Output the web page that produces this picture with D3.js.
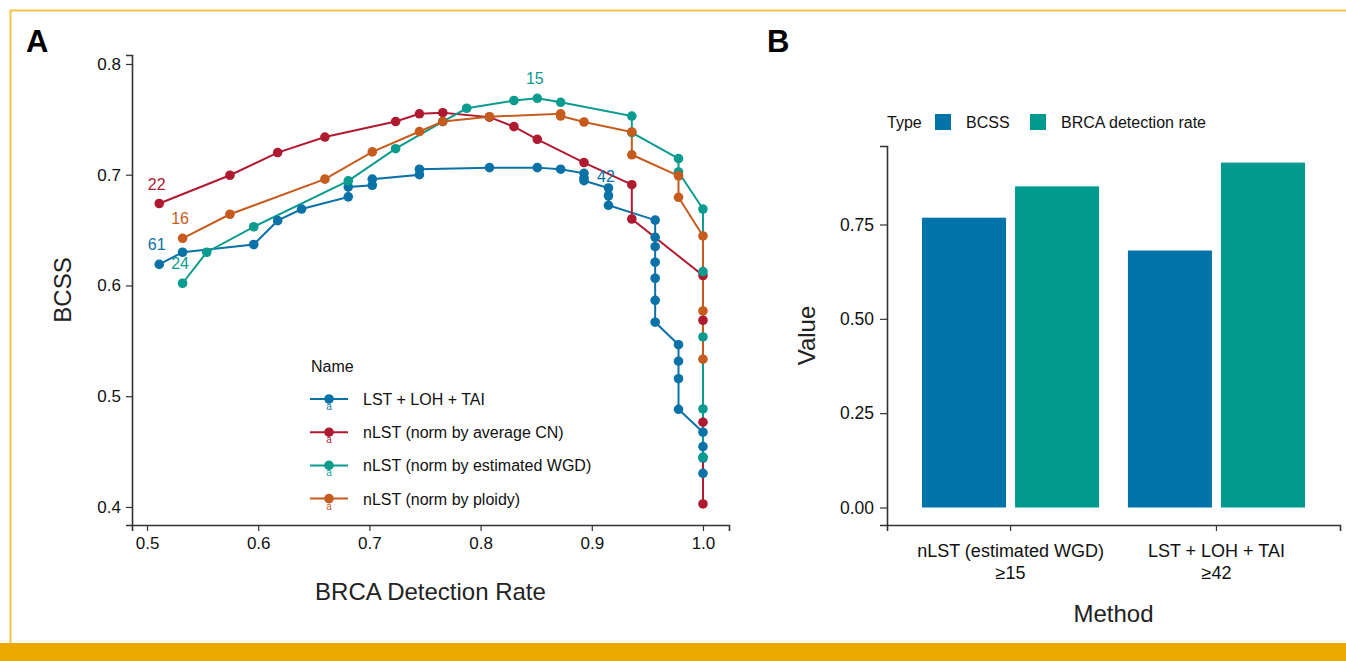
<!DOCTYPE html>
<html><head><meta charset="utf-8">
<script src="https://cdn.jsdelivr.net/npm/d3@7"></script>
<style>
html,body{margin:0;padding:0;background:#fff;}
svg{display:block;font-family:"Liberation Sans",Arial,Helvetica,sans-serif;}
</style></head>
<body>
<svg id="chart" width="1346" height="661"></svg>
<script>
// ---------- Panel A data ----------
const seriesNames = ["LST + LOH + TAI","nLST (norm by average CN)","nLST (norm by estimated WGD)","nLST (norm by ploidy)"];
const seriesColors = ["#0A72A7","#B01A31","#0C9B8F","#C65B1D"];

const blueX = [0.511,0.532,0.596,0.6175,0.639,0.681,0.681,0.7026,0.7026,0.745,0.745,0.808,0.851,0.872,0.893,0.893,0.893,0.915,0.915,0.915,0.957,0.957,0.957,0.957,0.957,0.957,0.957,0.978,0.978,0.978,0.978,1,1,1,1];
const blueY = [0.619,0.630,0.637,0.6585,0.669,0.680,0.689,0.6905,0.696,0.700,0.705,0.7064,0.7064,0.705,0.7013,0.6968,0.6946,0.688,0.681,0.6724,0.659,0.6435,0.635,0.621,0.6065,0.5866,0.5668,0.5465,0.5316,0.5158,0.4882,0.4675,0.4545,0.4442,0.4304];

const redX = [0.511,0.5746,0.6175,0.660,0.7236,0.745,0.766,0.808,0.830,0.851,0.893,0.936,0.936,1,1,1,1];
const redY = [0.674,0.6995,0.720,0.734,0.748,0.755,0.756,0.752,0.7434,0.732,0.711,0.691,0.660,0.609,0.5686,0.4765,0.4027];

const tealX = [0.532,0.5537,0.596,0.681,0.7236,0.766,0.7875,0.830,0.851,0.872,0.936,0.936,0.978,0.978,1,1,1,1,1];
const tealY = [0.602,0.630,0.653,0.6944,0.7235,0.748,0.760,0.767,0.769,0.7654,0.753,0.738,0.7145,0.7025,0.669,0.6125,0.5535,0.4885,0.445];

const orangeX = [0.532,0.5746,0.660,0.7026,0.745,0.766,0.808,0.872,0.872,0.893,0.936,0.936,0.978,0.978,1,1,1];
const orangeY = [0.6426,0.6643,0.696,0.7206,0.739,0.748,0.7524,0.755,0.753,0.7476,0.7386,0.718,0.699,0.6796,0.6447,0.577,0.5334];

// threshold labels: series index, point index, text
const labelSeries = [1,3,0,2,2,0];
const labelPoint  = [0,0,0,0,8,18];
const labelText   = ["22","16","61","24","15","42"];

const xTicksA = [0.5,0.6,0.7,0.8,0.9,1.0];
const yTicksA = [0.4,0.5,0.6,0.7,0.8];

// ---------- Panel B data ----------
const methods = ["nLST (estimated WGD)|≥15","LST + LOH + TAI|≥42"];
const types = ["BCSS","BRCA detection rate"];
const typeColors = ["#0074A8","#009A8F"];
const bcssValues = [0.768,0.681];
const detectionValues = [0.851,0.914];
const yTicksB = [0,0.25,0.5,0.75];

const svg = d3.select("#chart");
const axisColor = "#333";

// frame
svg.append("line").attr("x1",10).attr("x2",1346).attr("y1",10.5).attr("y2",10.5).attr("stroke","#F5C345").attr("stroke-width",2);
svg.append("line").attr("x1",10.5).attr("x2",10.5).attr("y1",10).attr("y2",644).attr("stroke","#F5C345").attr("stroke-width",2);
svg.append("rect").attr("x",0).attr("y",643).attr("width",1346).attr("height",18).attr("fill","#ECA900");

// panel letters
svg.append("text").attr("x",26).attr("y",52).attr("font-size",31).attr("font-weight","bold").text("A");
svg.append("text").attr("x",767).attr("y",52).attr("font-size",31).attr("font-weight","bold").text("B");

// ---------- Panel A ----------
const xA = d3.scaleLinear().domain([0.4865,1.0234]).range([132,729]);
const yA = d3.scaleLinear().domain([0.3837,0.8081]).range([525,55]);

const gA = svg.append("g");
// axes
const xAxisA = gA.append("g").attr("transform","translate(0,525)")
  .call(d3.axisBottom(xA).tickValues(xTicksA).tickFormat(d3.format(".1f")).tickSizeOuter(0).tickSize(6).tickPadding(6));
const yAxisA = gA.append("g").attr("transform","translate(132,0)")
  .call(d3.axisLeft(yA).tickValues(yTicksA).tickFormat(d3.format(".1f")).tickSizeOuter(0).tickSize(6).tickPadding(5));
[xAxisA,yAxisA].forEach(a=>{
  a.select(".domain").attr("stroke",axisColor).attr("stroke-width",1.6);
  a.selectAll(".tick line").attr("stroke",axisColor).attr("stroke-width",1.2);
  a.selectAll(".tick text").attr("fill","#111").attr("font-size",17).attr("font-family","Liberation Sans, Arial, sans-serif");
});
gA.append("text").attr("x",430.5).attr("y",600).attr("text-anchor","middle").attr("font-size",24).attr("fill","#222").text("BRCA Detection Rate");
gA.append("text").attr("transform","translate(71,290) rotate(-90)").attr("text-anchor","middle").attr("font-size",24).attr("fill","#222").text("BCSS");

const allX = [blueX,redX,tealX,orangeX];
const allY = [blueY,redY,tealY,orangeY];
const series = allX.map((xs,i)=>xs.map((x,j)=>({x:x,y:allY[i][j]})));
const line = d3.line().x(d=>xA(d.x)).y(d=>yA(d.y));
series.forEach((s,i)=>{
  gA.append("path").datum(s).attr("d",line).attr("fill","none").attr("stroke",seriesColors[i]).attr("stroke-width",2);
});
series.forEach((s,i)=>{
  gA.selectAll(null).data(s).enter().append("circle")
    .attr("cx",d=>xA(d.x)).attr("cy",d=>yA(d.y)).attr("r",4.8).attr("fill",seriesColors[i]);
});
labelText.forEach((t,k)=>{
  const p = series[labelSeries[k]][labelPoint[k]];
  gA.append("text").attr("x",xA(p.x)-2.5).attr("y",yA(p.y)-14).attr("text-anchor","middle")
    .attr("font-size",16).attr("fill",seriesColors[labelSeries[k]]).text(t);
});

// legend A
const lg = gA.append("g");
lg.append("text").attr("x",311).attr("y",372).attr("font-size",16).attr("fill","#111").text("Name");
seriesNames.forEach((n,i)=>{
  const yy = 399 + i*33.2;
  lg.append("line").attr("x1",310).attr("x2",348).attr("y1",yy).attr("y2",yy).attr("stroke",seriesColors[i]).attr("stroke-width",2);
  lg.append("circle").attr("cx",329).attr("cy",yy).attr("r",4.8).attr("fill",seriesColors[i]);
  lg.append("text").attr("x",329).attr("y",yy+11).attr("text-anchor","middle").attr("font-size",10).attr("fill",seriesColors[i]).text("a");
  lg.append("text").attr("x",363).attr("y",yy+6).attr("font-size",16).attr("fill","#111").text(n);
});

// ---------- Panel B ----------
const x0 = d3.scaleBand().domain(methods).range([887,1340]).paddingInner(0.14).paddingOuter(0.17);
const x1 = d3.scaleBand().domain(types).range([0,x0.bandwidth()]).paddingInner(0.097).paddingOuter(0);
const yB = d3.scaleLinear().domain([-0.0464,0.958]).range([525,146]);

const gB = svg.append("g");
const xAxisB = gB.append("g").attr("transform","translate(0,525)")
  .call(d3.axisBottom(x0).tickSizeOuter(0).tickSize(6).tickFormat(""));
const yAxisB = gB.append("g").attr("transform","translate(887,0)")
  .call(d3.axisLeft(yB).tickValues(yTicksB).tickFormat(d3.format(".2f")).tickSizeOuter(0).tickSize(7).tickPadding(6));
[xAxisB,yAxisB].forEach(a=>{
  a.select(".domain").attr("stroke",axisColor).attr("stroke-width",1.6);
  a.selectAll(".tick line").attr("stroke",axisColor).attr("stroke-width",1.2);
  a.selectAll(".tick text").attr("fill","#111").attr("font-size",17.5);
});
methods.forEach(m=>{
  const parts = m.split("|");
  const cx = x0(m)+x0.bandwidth()/2;
  gB.append("text").attr("x",cx).attr("y",557).attr("text-anchor","middle").attr("font-size",18).attr("fill","#111").text(parts[0]);
  gB.append("text").attr("x",cx).attr("y",579).attr("text-anchor","middle").attr("font-size",18).attr("fill","#111").text(parts[1]);
});
const barData = [];
methods.forEach((m,i)=>{
  barData.push({m:m,t:types[0],v:bcssValues[i]});
  barData.push({m:m,t:types[1],v:detectionValues[i]});
});
gB.selectAll("rect.bar").data(barData).enter().append("rect").attr("class","bar")
  .attr("x",d=>x0(d.m)+x1(d.t)).attr("width",x1.bandwidth())
  .attr("y",d=>yB(d.v)).attr("height",d=>yB(0)-yB(d.v))
  .attr("fill",d=>typeColors[types.indexOf(d.t)]);
gB.append("text").attr("x",1113.5).attr("y",622).attr("text-anchor","middle").attr("font-size",24).attr("fill","#222").text("Method");
gB.append("text").attr("transform","translate(815,335.5) rotate(-90)").attr("text-anchor","middle").attr("font-size",24).attr("fill","#222").text("Value");

// legend B
const lb = gB.append("g");
lb.append("text").attr("x",887).attr("y",128).attr("font-size",16).attr("fill","#111").text("Type");
const legX = [935,1030];
types.forEach((t,i)=>{
  lb.append("rect").attr("x",legX[i]).attr("y",114).attr("width",16).attr("height",16).attr("fill",typeColors[i]);
  lb.append("text").attr("x",legX[i]+31).attr("y",128).attr("font-size",16).attr("fill","#111").text(t);
});
</script>
</body></html>
